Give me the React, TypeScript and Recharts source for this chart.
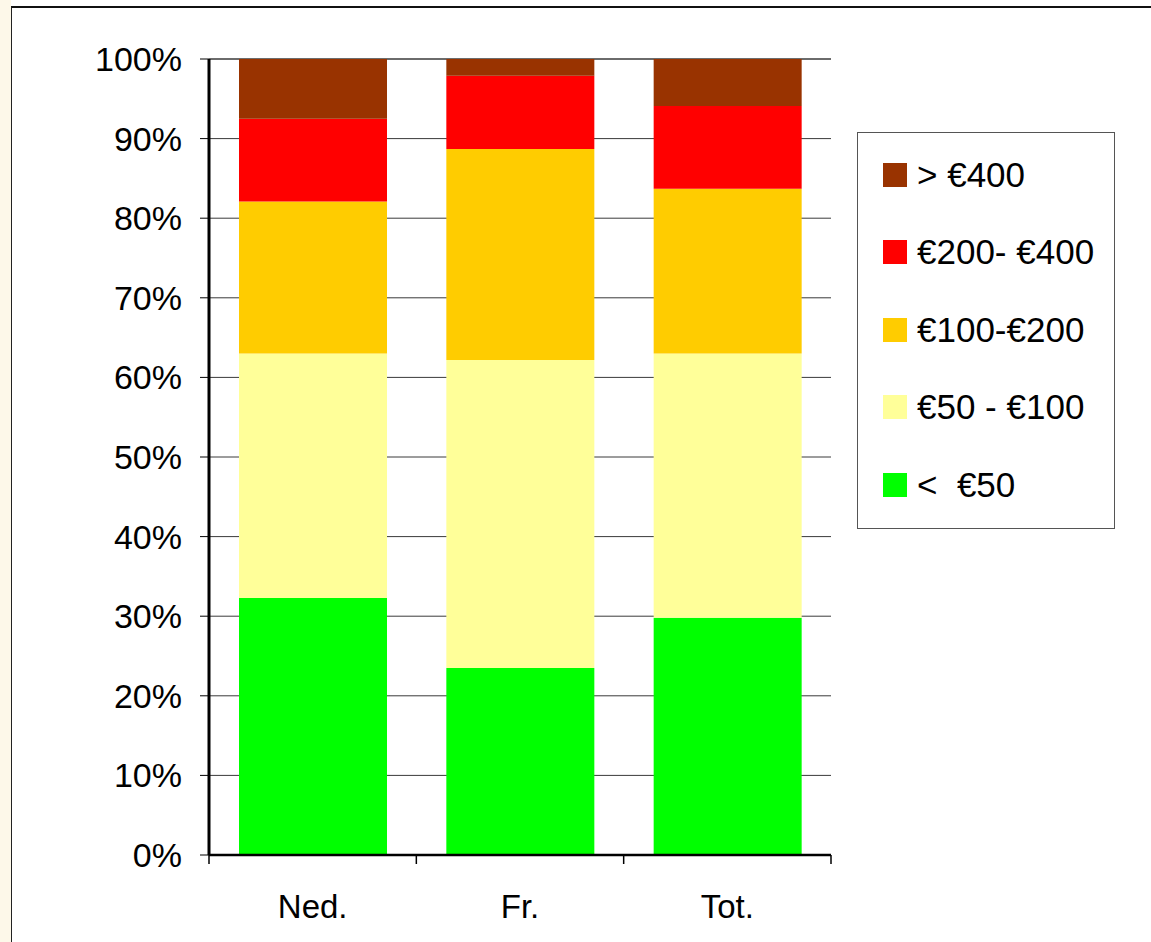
import { BarChart, Bar, XAxis, YAxis, CartesianGrid } from 'recharts';

const categories = ['Ned.', 'Fr.', 'Tot.'];

// share per price class, in percent of each group
const under50 = [32.3, 23.5, 29.8];
const from50to100 = [30.7, 38.7, 33.2];
const from100to200 = [19.1, 26.5, 20.7];
const from200to400 = [10.4, 9.2, 10.4];
const over400 = [7.5, 2.1, 5.9];

const yTicks = [0, 10, 20, 30, 40, 50, 60, 70, 80, 90, 100];

const series = [
    { key: 'lt50', name: '<  €50', color: '#00FF00', values: under50 },
    { key: 'b50', name: '€50 - €100', color: '#FFFF99', values: from50to100 },
    { key: 'b100', name: '€100-€200', color: '#FFCC00', values: from100to200 },
    { key: 'b200', name: '€200- €400', color: '#FF0000', values: from200to400 },
    { key: 'gt400', name: '> €400', color: '#993300', values: over400 },
];

const data = categories.map((name, i) => {
    const row: Record<string, string | number> = { name };
    series.forEach((s) => {
        row[s.key] = s.values[i];
    });
    return row;
});

const W = 1151;
const H = 942;
const PLOT_LEFT = 209;
const PLOT_RIGHT = 831;
const BAND = (PLOT_RIGHT - PLOT_LEFT) / categories.length;
const FONT = '"Liberation Sans", Arial, sans-serif';

function CategoryTick(props: any) {
    const { x, y, payload, index } = props;
    const left = x - BAND / 2;
    const right = x + BAND / 2;
    return (
        <g>
            <line x1={left} x2={left} y1={y - 9} y2={y} stroke="#000" strokeWidth={1.5} />
            {index === categories.length - 1 && (
                <line x1={right} x2={right} y1={y - 9} y2={y} stroke="#000" strokeWidth={1.5} />
            )}
            <text x={x} y={y + 54} textAnchor="middle" fontSize={33} fontFamily={FONT} fill="#000">
                {payload.value}
            </text>
        </g>
    );
}

// legend box, top entry is the top of the stack
function PriceLegend() {
    return (
        <div
            style={{
                position: 'absolute',
                left: 857,
                top: 132,
                width: 258,
                height: 397,
                border: '1px solid #555',
                background: '#fff',
                boxSizing: 'border-box',
                paddingTop: 3,
                fontFamily: FONT,
            }}
        >
            {[...series].reverse().map((s) => (
                <div
                    key={s.key}
                    style={{ display: 'flex', alignItems: 'center', height: 77.5, marginLeft: 25 }}
                >
                    <span style={{ width: 24, height: 24, background: s.color, display: 'inline-block' }} />
                    <span style={{ marginLeft: 10, fontSize: 35, color: '#000', whiteSpace: 'pre' }}>
                        {s.name}
                    </span>
                </div>
            ))}
        </div>
    );
}

export default function App() {
    return (
        <div style={{ position: 'absolute', left: 0, top: 0, width: W, height: H, background: '#fff' }}>
            <div
                style={{
                    position: 'absolute',
                    left: 0,
                    top: 0,
                    width: 11,
                    height: H,
                    background: '#fdf8e9',
                }}
            />
            <div
                style={{
                    position: 'absolute',
                    left: 11,
                    top: 6,
                    width: W - 11,
                    height: H - 6,
                    borderLeft: '1.5px solid #222',
                    borderTop: '2px solid #111',
                    boxSizing: 'border-box',
                }}
            />
            <div style={{ position: 'absolute', left: 0, top: 0 }}>
                <BarChart
                    width={W}
                    height={H}
                    data={data}
                    margin={{ top: 59, right: W - PLOT_RIGHT, bottom: 0, left: 0 }}
                >
                    <CartesianGrid vertical={false} stroke="#3a3a3a" strokeWidth={1} />
                    <XAxis
                        dataKey="name"
                        height={87}
                        axisLine={{ stroke: '#000', strokeWidth: 2.5 }}
                        tickLine={false}
                        tickSize={9}
                        tickMargin={0}
                        tick={<CategoryTick />}
                        interval={0}
                    />
                    <XAxis
                        xAxisId="top"
                        dataKey="name"
                        orientation="top"
                        height={0}
                        axisLine={{ stroke: '#000', strokeWidth: 2.5 }}
                        tick={false}
                        tickLine={false}
                    />
                    <YAxis
                        width={PLOT_LEFT}
                        domain={[0, 100]}
                        ticks={yTicks}
                        interval={0}
                        tickFormatter={(v: number) => `${v}%`}
                        axisLine={{ stroke: '#000', strokeWidth: 3 }}
                        tickLine={{ stroke: '#000' }}
                        tickSize={9}
                        tickMargin={18}
                        tick={{ fontSize: 34, fontFamily: FONT, fill: '#000' }}
                    />
                    <YAxis
                        yAxisId="right"
                        orientation="right"
                        width={0}
                        domain={[0, 100]}
                        axisLine={{ stroke: '#000', strokeWidth: 3 }}
                        tick={false}
                        tickLine={false}
                    />
                    {series.map((s) => (
                        <Bar
                            key={s.key}
                            dataKey={s.key}
                            name={s.name}
                            stackId="a"
                            fill={s.color}
                            barSize={148}
                            isAnimationActive={false}
                        />
                    ))}
                </BarChart>
            </div>
            <PriceLegend />
        </div>
    );
}
